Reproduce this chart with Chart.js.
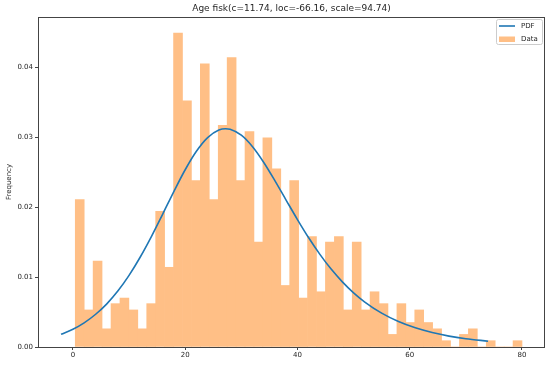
<!DOCTYPE html>
<html>
<head>
<meta charset="utf-8">
<script src="https://cdn.jsdelivr.net/npm/chart.js@4/dist/chart.umd.min.js"></script>
<style>
  html, body { margin: 0; padding: 0; background: #ffffff; }
  #wrap { width: 553px; height: 365px; }
</style>
</head>
<body>
<div id="wrap"><canvas id="c" width="553" height="365"></canvas></div>
<script>
// ---- data ----
const chartTitle = 'Age fisk(c=11.74, loc=-66.16, scale=94.74)';
const yAxisTitle = 'Frequency';

// histogram bin edges (age)
const binEdges = [0.42, 2.01, 3.60, 5.19, 6.79, 8.38, 9.97, 11.56, 13.15, 14.74,
  16.34, 17.93, 19.52, 21.11, 22.70, 24.29, 25.89, 27.48, 29.07, 30.66,
  32.25, 33.84, 35.44, 37.03, 38.62, 40.21, 41.80, 43.39, 44.98, 46.58,
  48.17, 49.76, 51.35, 52.94, 54.53, 56.13, 57.72, 59.31, 60.90, 62.49,
  64.08, 65.68, 67.27, 68.86, 70.45, 72.04, 73.63, 75.23, 76.82, 78.41, 80.00];

// histogram densities (one per bin)
const binDensity = [0.0211, 0.0053, 0.0123, 0.0026, 0.0062, 0.0070, 0.0053, 0.0026, 0.0062, 0.0194,
  0.0114, 0.0449, 0.0352, 0.0238, 0.0405, 0.0211, 0.0317, 0.0414, 0.0238, 0.0308,
  0.0150, 0.0299, 0.0255, 0.0088, 0.0238, 0.0070, 0.0158, 0.0079, 0.0150, 0.0158,
  0.0053, 0.0150, 0.0053, 0.0079, 0.0062, 0.0018, 0.0062, 0.0035, 0.0053, 0.0035,
  0.0026, 0.0009, 0.0000, 0.0018, 0.0026, 0.0000, 0.0009, 0.0000, 0.0000, 0.0009];

// fitted PDF curve points
const pdfX = [-2.11, 0, 2, 4, 6, 8, 10, 12, 14, 16, 18, 20, 22, 24, 26, 27.2, 28, 30, 32, 34,
  36, 38, 40, 42, 44, 46, 48, 50, 52, 55, 58, 61, 64, 67, 70, 73.96];
const pdfY = [0.00181, 0.00254, 0.00346, 0.00465, 0.00614, 0.00800, 0.01024, 0.01287, 0.01583, 0.01902,
  0.02227, 0.02535, 0.02799, 0.02995, 0.03103, 0.03121, 0.03113, 0.03029, 0.02864, 0.02639,
  0.02376, 0.02098, 0.01823, 0.01562, 0.01325, 0.01114, 0.00932, 0.00775, 0.00643, 0.00484,
  0.00364, 0.00274, 0.00207, 0.00156, 0.00119, 0.00083];

const xTicks = [0, 20, 40, 60, 80];
const yTicks = [0.00, 0.01, 0.02, 0.03, 0.04];
const legendLabels = ['PDF', 'Data'];

// ---- build library structures ----
const barData = binDensity.map((v, i) => ({ x: (binEdges[i] + binEdges[i + 1]) / 2, y: v }));
const lineData = pdfX.map((x, i) => ({ x: x, y: pdfY[i] }));

const BLUE = '#1f77b4';
const ORANGE = '#ffbf86';
const FONT = 'DejaVu Sans';
const TEXT = '#262626';

const framePlugin = {
  id: 'frame',
  afterDraw(chart) {
    const { ctx, chartArea: a } = chart;
    ctx.save();
    // frame
    ctx.strokeStyle = '#444444';
    ctx.lineWidth = 1;
    ctx.strokeRect(Math.round(a.left) + 0.5, Math.round(a.top) + 0.5,
      Math.round(a.right - a.left) - 1, Math.round(a.bottom - a.top));
    // title
    ctx.fillStyle = TEXT;
    ctx.font = '9px "' + FONT + '"';
    ctx.textAlign = 'center';
    ctx.textBaseline = 'middle';
    ctx.fillText(chartTitle, (a.left + a.right) / 2, 9);
    // legend
    const bx = a.right - 49, by = a.top + 2, bw = 46, bh = 25;
    ctx.fillStyle = 'rgba(255,255,255,0.8)';
    ctx.strokeStyle = '#cccccc';
    ctx.lineWidth = 1;
    ctx.beginPath();
    if (ctx.roundRect) ctx.roundRect(bx + 0.5, by + 0.5, bw, bh, 2); else ctx.rect(bx + 0.5, by + 0.5, bw, bh);
    ctx.fill();
    ctx.stroke();
    ctx.strokeStyle = BLUE;
    ctx.lineWidth = 1.6;
    ctx.beginPath();
    ctx.moveTo(bx + 3, by + 7);
    ctx.lineTo(bx + 19, by + 7);
    ctx.stroke();
    ctx.fillStyle = ORANGE;
    ctx.fillRect(bx + 3, by + 17.5, 16, 5.5);
    ctx.fillStyle = TEXT;
    ctx.font = '7px "' + FONT + '"';
    ctx.textAlign = 'left';
    ctx.fillText(legendLabels[0], bx + 25, by + 7.5);
    ctx.fillText(legendLabels[1], bx + 25, by + 20);
    ctx.restore();
  }
};

new Chart(document.getElementById('c'), {
  type: 'bar',
  data: {
    datasets: [
      {
        type: 'line',
        label: legendLabels[0],
        data: lineData,
        borderColor: BLUE,
        borderWidth: 1.6,
        pointRadius: 0,
        fill: false,
        cubicInterpolationMode: 'monotone',
        order: 0
      },
      {
        type: 'bar',
        label: legendLabels[1],
        data: barData,
        backgroundColor: ORANGE,
        borderWidth: 0,
        barPercentage: 1,
        categoryPercentage: 1,
        order: 1
      }
    ]
  },
  options: {
    responsive: false,
    animation: false,
    devicePixelRatio: 1,
    layout: { padding: { top: 17, right: 8, left: 0, bottom: 0 } },
    plugins: { legend: { display: false }, title: { display: false }, tooltip: { enabled: false } },
    scales: {
      x: {
        type: 'linear',
        min: -6.22,
        max: 84.1,
        offset: false,
        afterFit(s) { s.height = 18; },
        afterBuildTicks(s) { s.ticks = xTicks.map(v => ({ value: v })); },
        grid: { display: true, drawOnChartArea: false, drawTicks: true, tickLength: 3, tickColor: '#444', offset: false },
        border: { display: false },
        ticks: { color: TEXT, font: { family: FONT, size: 7 }, padding: 1, maxRotation: 0,
                 callback: v => String(v) }
      },
      y: {
        type: 'linear',
        min: 0,
        max: 0.0472,
        afterFit(s) { s.width = 38; },
        afterBuildTicks(s) { s.ticks = yTicks.map(v => ({ value: v })); },
        grid: { display: true, drawOnChartArea: false, drawTicks: true, tickLength: 3, tickColor: '#444' },
        border: { display: false },
        title: { display: true, text: yAxisTitle, color: TEXT, font: { family: FONT, size: 7 }, padding: { top: 5, bottom: 0 } },
        ticks: { color: TEXT, font: { family: FONT, size: 7 }, padding: 2,
                 callback: v => Number(v).toFixed(2) }
      }
    }
  },
  plugins: [framePlugin]
});
</script>
</body>
</html>
